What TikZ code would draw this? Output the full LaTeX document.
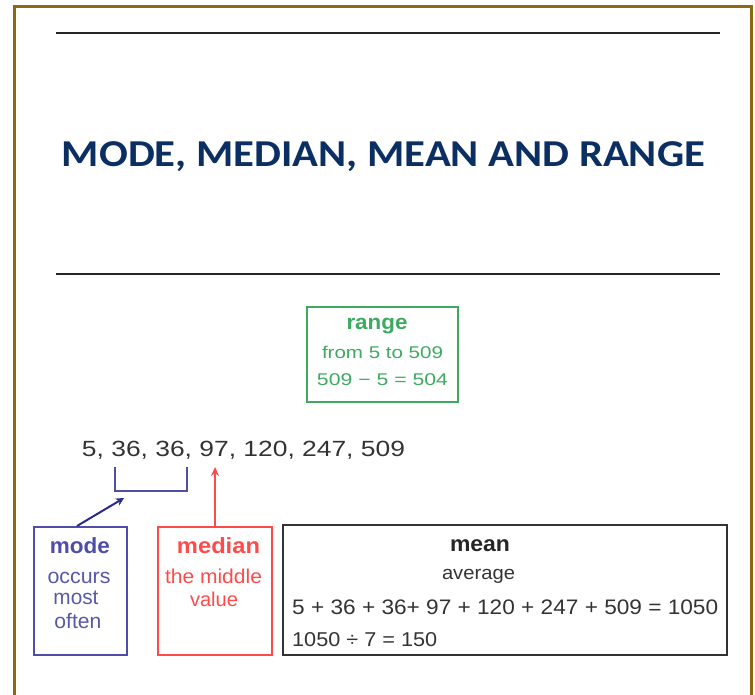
\documentclass[tikz,border=0pt]{standalone}
\usepackage{fontspec}
\usepackage{graphicx}
\usetikzlibrary{arrows.meta}
\newfontfamily\titlefont{Carlito}
\newfontfamily\arfont{Liberation Sans}
\definecolor{frameC}{HTML}{8B6A10}
\definecolor{titleC}{HTML}{0B2F63}
\definecolor{rangeC}{HTML}{3DAA60}
\definecolor{modeC}{HTML}{4E4EA8}
\definecolor{modeT}{HTML}{5858A8}
\definecolor{arrC}{HTML}{2A2A8C}
\definecolor{medC}{HTML}{FF4A4A}
\definecolor{meanC}{HTML}{333333}
\newcommand\tw[2]{\resizebox{#1}{\height}{#2}}
\tikzset{
  txt/.style={inner sep=0pt, anchor=base, font=\arfont},
  boxnode/.style={draw, line width=2pt, inner sep=0pt},
  rulestyle/.style={line width=2.4pt, draw=black!85},
}
\begin{document}
\begin{tikzpicture}[x=1pt,y=-1pt]
\useasboundingbox (0,0) rectangle (755,694);
% frame
\draw[frameC, line width=3pt] (14.5,700) -- (14.5,6.5) -- (751.5,6.5) -- (751.5,700);
% rules
\coordinate (r1a) at (56,33); \coordinate (r1b) at (720,33);
\coordinate (r2a) at (56,274); \coordinate (r2b) at (720,274);
\draw[rulestyle] (r1a) -- (r1b);
\draw[rulestyle] (r2a) -- (r2b);
% title
\node[inner sep=0pt, anchor=base, text=titleC] (title) at (383.5,166)
  {\tw{643pt}{\fontsize{38}{38}\titlefont\bfseries MODE, MEDIAN, MEAN AND RANGE}};
% range box
\node[boxnode, draw=rangeC, minimum width=151pt, minimum height=95pt] (rangebox) at (382.5,354.5) {};
\node[txt, text=rangeC] (r1) at (377,329) {\tw{61pt}{\fontsize{21}{21}\selectfont\bfseries range}};
\node[txt, text=rangeC] (r2) at (382.5,358) {\tw{121pt}{\fontsize{17}{17}\selectfont from 5 to 509}};
\node[txt, text=rangeC] (r3) at (382.5,385) {\tw{131pt}{\fontsize{17}{17}\selectfont 509 − 5 = 504}};
% numbers
\node[txt, text=black!80] (nums) at (243.5,456) {\tw{323pt}{\fontsize{22}{22}\selectfont 5, 36, 36, 97, 120, 247, 509}};
% bracket
\coordinate (b1) at (115,467); \coordinate (b2) at (115,491);
\coordinate (b3) at (187,491); \coordinate (b4) at (187,467);
\draw[modeC, line width=2pt] (b1) -- (b2) -- (b3) -- (b4);
\coordinate (brk) at (124,498);
\coordinate (medtip) at (215,467);
% mode box
\node[boxnode, draw=modeC, minimum width=93pt, minimum height=128pt] (modebox) at (80.5,591) {};
\node[txt, text=modeC] (m1) at (80,553) {\tw{60pt}{\fontsize{22}{22}\selectfont\bfseries mode}};
\node[txt, text=modeT] (m2) at (79,583) {\tw{63pt}{\fontsize{21}{21}\selectfont occurs}};
\node[txt, text=modeT] (m3) at (76,604) {\tw{45pt}{\fontsize{21}{21}\selectfont most}};
\node[txt, text=modeT] (m4) at (78,628) {\tw{47pt}{\fontsize{21}{21}\selectfont often}};
% median box
\node[boxnode, draw=medC, minimum width=114pt, minimum height=128pt] (medbox) at (215,591) {};
\node[txt, text=medC] (d1) at (218.5,553) {\tw{83pt}{\fontsize{22}{22}\selectfont\bfseries median}};
\node[txt, text=medC] (d2) at (213.5,583) {\tw{97pt}{\fontsize{20}{20}\selectfont the middle}};
\node[txt, text=medC] (d3) at (214,606) {\tw{48pt}{\fontsize{20}{20}\selectfont value}};
% mean box
\node[boxnode, draw=meanC, minimum width=444pt, minimum height=130pt] (meanbox) at (505,590) {};
\node[txt, text=black!85] (e1) at (480,551) {\tw{60pt}{\fontsize{22}{22}\selectfont\bfseries mean}};
\node[txt, text=black!80] (e2) at (478.5,579) {\tw{73pt}{\fontsize{19}{19}\selectfont average}};
\node[txt, anchor=base west, text=black!80] (e3) at (292,614) {\tw{426pt}{\fontsize{21}{21}\selectfont 5 + 36 + 36+ 97 + 120 + 247 + 509 = 1050}};
\node[txt, anchor=base west, text=black!80] (e4) at (292,646) {\tw{145pt}{\fontsize{20}{20}\selectfont 1050 ÷ 7 = 150}};
% arrows
\draw[arrC, line width=2pt, -{Stealth[length=8pt,width=8pt]}] ([xshift=-3.5pt]modebox.north) -- (brk);
\draw[medC, line width=1.6pt, -{Stealth[length=9pt,width=8pt]}] (medbox.north) -- (medtip);
\end{tikzpicture}
\end{document}
